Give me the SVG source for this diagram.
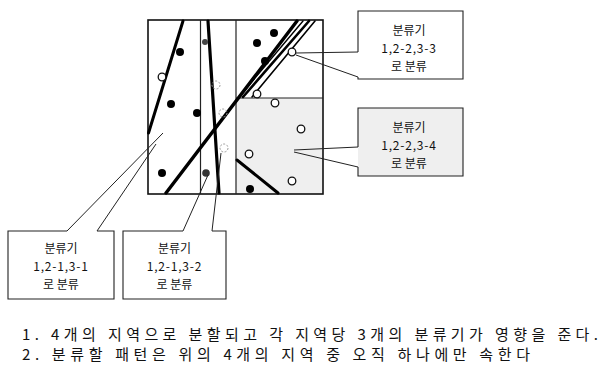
<svg xmlns="http://www.w3.org/2000/svg" width="608" height="368" viewBox="0 0 608 368">
<style>
.frame{fill:none;stroke:#111;stroke-width:1.6}
.div{fill:none;stroke:#222;stroke-width:1.2}
.thick{fill:none;stroke:#000;stroke-linecap:round}
.dot{fill:#000}
.hole{fill:#fff;stroke:#111;stroke-width:1.3}
.faint{fill:none;stroke:#999;stroke-width:1;stroke-dasharray:2 1.5}
.box{stroke:#222;stroke-width:1.1}
.conn{fill:none;stroke:#222;stroke-width:1}
.lbl{font-family:"Noto Sans CJK KR","Liberation Sans",sans-serif;font-size:12px;fill:#111;text-anchor:middle}
.num{letter-spacing:0.8px}
.note{font-family:"Noto Sans CJK KR","Liberation Sans",sans-serif;font-size:15px;fill:#111}
</style>
<rect width="608" height="368" fill="#fff"/>
<g id="regions">
  <rect x="236" y="98" width="87" height="96" fill="#efefef"/>
  <rect class="frame" x="148" y="20" width="175" height="174"/>
  <line class="div" x1="200.5" y1="20" x2="200.5" y2="194"/>
  <line class="div" x1="236" y1="20" x2="236" y2="194"/>
  <line class="div" x1="236" y1="98" x2="323" y2="98"/>
  <line class="thick" stroke-width="3" x1="183" y1="21" x2="148.5" y2="133"/>
  <line class="thick" stroke-width="3.2" x1="208" y1="21" x2="219" y2="193"/>
  <line class="thick" stroke-width="3.4" x1="297" y1="21" x2="166" y2="193"/>
  <line class="thick" stroke-width="2.6" x1="309" y1="21" x2="243" y2="97"/>
  <line class="thick" stroke-width="1.4" x1="303" y1="21" x2="239" y2="97"/>
  <line class="thick" stroke-width="1.6" x1="315" y1="21" x2="252" y2="97"/>
  <line class="thick" stroke-width="3" x1="237" y1="160" x2="278" y2="193"/>
  <circle class="dot" cx="180" cy="52" r="4"/>
  <circle class="dot" cx="171" cy="104" r="4"/>
  <circle class="dot" cx="197" cy="113" r="4"/>
  <circle class="dot" cx="162" cy="173" r="4"/>
  <circle class="dot" cx="257" cy="43" r="4"/>
  <circle class="dot" cx="274" cy="33" r="4"/>
  <circle class="dot" cx="265" cy="61" r="4"/>
  <circle class="dot" cx="250" cy="189" r="4"/>
  <circle cx="206" cy="173" r="3.8" fill="#333"/>
  <circle cx="205" cy="42" r="3" fill="#444"/>
  <circle class="hole" cx="162" cy="77" r="3.8"/>
  <circle class="hole" cx="292" cy="52" r="3.8"/>
  <circle class="hole" cx="257" cy="94" r="3.8"/>
  <circle class="hole" cx="275" cy="103" r="3.8"/>
  <circle class="hole" cx="301" cy="129" r="3.8"/>
  <circle class="hole" cx="249" cy="154" r="3.8"/>
  <circle class="hole" cx="292" cy="181" r="3.8"/>
  <circle class="faint" cx="216" cy="85" r="4"/>
  <circle class="faint" cx="223" cy="113" r="4"/>
  <circle class="faint" cx="224" cy="148" r="4"/>
</g>
<g id="connectors">
  <line class="conn" x1="358" y1="52" x2="296" y2="53"/>
  <line class="conn" x1="296" y1="55" x2="358" y2="77"/>
  <line class="conn" x1="358" y1="147" x2="294" y2="150"/>
  <line class="conn" x1="294" y1="152" x2="358" y2="167"/>
  <line class="conn" x1="67" y1="231" x2="163" y2="133"/>
  <line class="conn" x1="97" y1="231" x2="156" y2="144"/>
  <line class="conn" x1="183" y1="231" x2="208" y2="175"/>
  <line class="conn" x1="212" y1="231" x2="221" y2="153"/>
</g>
<g id="callout-2-3-3">
  <path class="box" fill="#fff" d="M358,52 V11 H463 V79 H358 V77"/>
  <text class="lbl" x="409" y="35">분류기</text>
  <text class="lbl num" x="409" y="53">1,2-2,3-3</text>
  <text class="lbl" x="409" y="71">로 분류</text>
</g>
<g id="callout-2-3-4">
  <path class="box" fill="#efefef" d="M358,147 V108 H463 V176 H358 V167"/>
  <text class="lbl" x="409" y="132">분류기</text>
  <text class="lbl num" x="409" y="150">1,2-2,3-4</text>
  <text class="lbl" x="409" y="168">로 분류</text>
</g>
<g id="callout-1-3-1">
  <path class="box" fill="#fff" d="M67,231 H8 V299 H114 V231 H97"/>
  <text class="lbl" x="61" y="253">분류기</text>
  <text class="lbl num" x="61" y="271">1,2-1,3-1</text>
  <text class="lbl" x="61" y="289">로 분류</text>
</g>
<g id="callout-1-3-2">
  <path class="box" fill="#fff" d="M183,231 H123 V299 H226 V231 H212"/>
  <text class="lbl" x="174.5" y="253">분류기</text>
  <text class="lbl num" x="174.5" y="271">1,2-1,3-2</text>
  <text class="lbl" x="174.5" y="289">로 분류</text>
</g>
<g id="notes">
  <text class="note" x="22" y="340" textLength="576" lengthAdjust="spacing">1. 4개의 지역으로 분할되고 각 지역당 3개의 분류기가 영향을 준다.</text>
  <text class="note" x="22" y="360" textLength="508" lengthAdjust="spacing">2. 분류할 패턴은 위의 4개의 지역 중 오직 하나에만 속한다</text>
</g>
</svg>
